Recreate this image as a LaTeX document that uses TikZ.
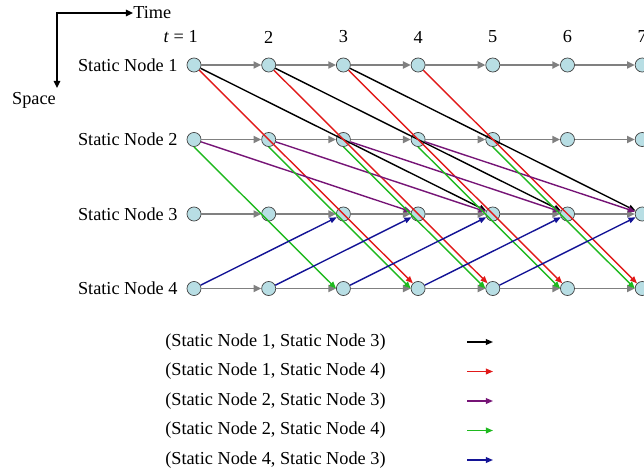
\documentclass[tikz,border=0pt]{standalone}
\usepackage{fontspec}
\setmainfont{Liberation Serif}
\usetikzlibrary{arrows.meta, positioning}
\definecolor{slotblue}{RGB}{184,222,228}
\definecolor{linkred}{RGB}{225,25,25}
\definecolor{linkpurple}{RGB}{118,20,118}
\definecolor{linkgreen}{RGB}{30,185,30}
\definecolor{linkblue}{RGB}{20,20,150}
\tikzset{
    slot/.style={circle, draw=black!75, line width=0.5pt, fill=slotblue, minimum size=10pt, inner sep=0pt},
    rowlabel/.style={inner sep=0pt},
    hop/.style={gray, line width=1.3pt, -{Triangle[length=5.5pt, width=5pt]}},
    link/.style={line width=1pt, -{Triangle[length=5pt, width=4pt]}},
    axis/.style={black, line width=1.1pt, {Triangle[length=5pt, width=4.5pt]}-{Triangle[length=5pt, width=4.5pt]}}
}

\begin{document}
\begin{tikzpicture}[x=0.025cm, y=-0.025cm, font=\fontsize{13}{15}\selectfont]

    \useasboundingbox (0,0) rectangle (644,475);

    % Time and Space axes
    \coordinate (origin) at (57,13);
    \coordinate (space_tip) at (57,88);
    \node (time) [anchor=west, inner sep=0pt] at (133,13) {Time};
    \node (space) [inner sep=0pt] at (34,100) {Space};
    \draw [axis] (space_tip) -- (origin) -- (time.west);

    % Time slots of every static node
    \foreach \r in {1,...,4}
        \foreach \t in {1,...,7}
            \node (s\r_\t) [slot] at ({194+74.7*(\t-1)}, {65+74.5*(\r-1)}) {};

    % Row and column labels
    \foreach \r in {1,...,4}
        \node [rowlabel, left=0.22cm of s\r_1] {Static Node \r};
    \node (tick_1) [anchor=east, inner sep=0pt] at (198,37) {\textit{t} = 1};
    \foreach \t in {2,...,7}
        \node (tick_\t) [inner sep=0pt] at ({194+74.7*(\t-1)}, 37) {\t};

    % Waiting in place
    \foreach \r in {1,...,4} {
        \foreach \t in {1,...,6} {
            \pgfmathtruncatemacro{\nxt}{\t+1}
            \draw [hop] (s\r_\t) -- (s\r_\nxt);
        }
    }

    % (Static Node 1, Static Node 3)
    \foreach \t [evaluate=\t as \u using int(\t+4)] in {1,2,3}
        \draw [link, black] (s1_\t) -- (s3_\u);
    % (Static Node 1, Static Node 4)
    \foreach \t [evaluate=\t as \u using int(\t+3)] in {1,...,4}
        \draw [link, linkred] (s1_\t) -- (s4_\u);
    % (Static Node 2, Static Node 3)
    \foreach \t [evaluate=\t as \u using int(\t+3)] in {1,...,4}
        \draw [link, linkpurple] (s2_\t) -- (s3_\u);
    % (Static Node 2, Static Node 4)
    \foreach \t [evaluate=\t as \u using int(\t+2)] in {1,...,5}
        \draw [link, linkgreen] (s2_\t.south) -- (s4_\u.west);
    % (Static Node 4, Static Node 3)
    \foreach \t [evaluate=\t as \u using int(\t+2)] in {1,...,5}
        \draw [link, linkblue] (s4_\t) -- (s3_\u);

    % Legend
    \foreach \a/\b/\col [count=\k] in {1/3/black, 1/4/linkred, 2/3/linkpurple, 2/4/linkgreen, 4/3/linkblue} {
        \node (key_\k) [anchor=west, inner sep=0pt] at (165, {342+29.5*(\k-1)}) {(Static Node \a, Static Node \b)};
        \coordinate (key_\k_from) at (467, {342+29.5*(\k-1)});
        \coordinate (key_\k_to) at (493, {342+29.5*(\k-1)});
        \draw [link, \col] (key_\k_from) -- (key_\k_to);
    }

\end{tikzpicture}
\end{document}
